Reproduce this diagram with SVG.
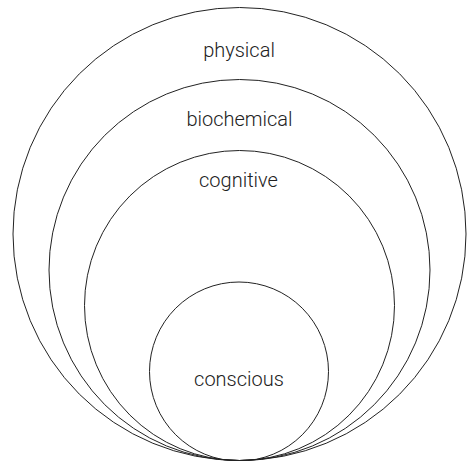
<svg xmlns="http://www.w3.org/2000/svg" width="467" height="461" viewBox="0 0 467 461">
<style>
.c{fill:none;stroke:#222;stroke-width:1}
.t{font-family:Roboto,"Liberation Sans",sans-serif;font-weight:300;font-size:20px;fill:#222;text-anchor:middle}
</style>
<rect width="467" height="461" fill="#fff"/>
<g id="physical"><circle class="c" cx="239.5" cy="234" r="226.5"/><text class="t" x="239" y="57">physical</text></g>
<g id="biochemical"><circle class="c" cx="239.5" cy="270" r="190.5"/><text class="t" x="239.5" y="126">biochemical</text></g>
<g id="cognitive"><circle class="c" cx="239.5" cy="305.5" r="155"/><text class="t" x="238.5" y="187">cognitive</text></g>
<g id="conscious"><circle class="c" cx="239" cy="371.5" r="89.5"/><text class="t" x="239" y="386">conscious</text></g>
<g id="connectors"></g>
</svg>
